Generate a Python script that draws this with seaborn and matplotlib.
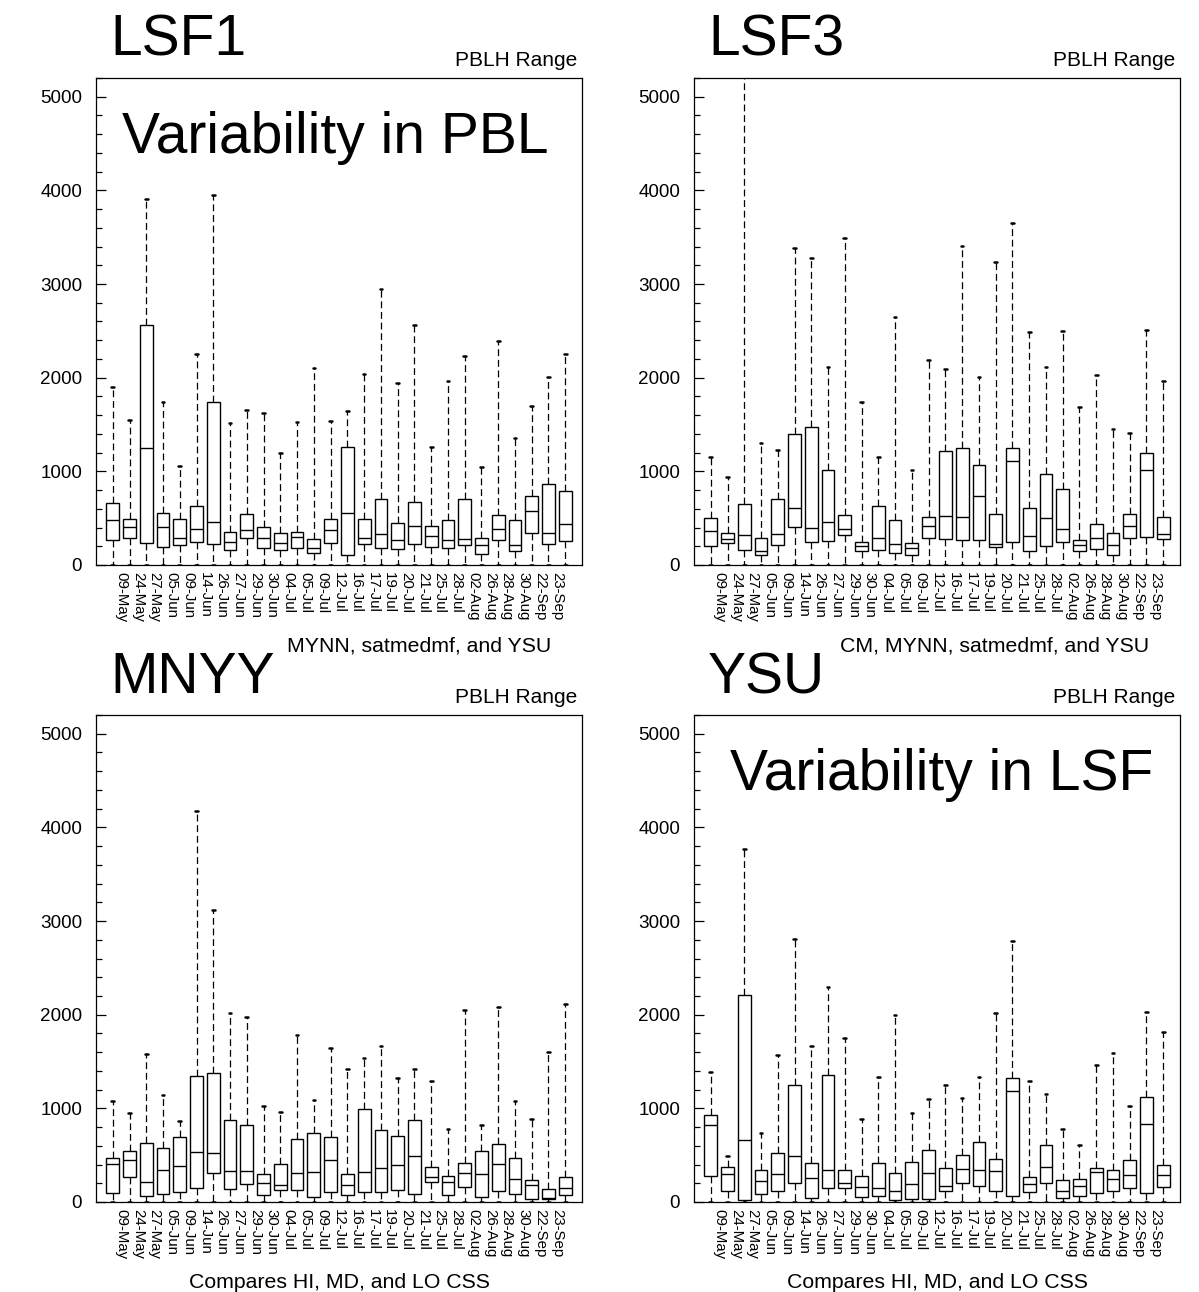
import numpy as np
import pandas as pd
import matplotlib
matplotlib.use("Agg")
import matplotlib.pyplot as plt
import seaborn as sns
from matplotlib.ticker import MultipleLocator

sns.set_style("ticks")
plt.rcParams['font.family'] = ['Liberation Sans', 'DejaVu Sans']
plt.rcParams['text.color'] = 'black'
plt.rcParams['axes.labelcolor'] = 'black'
plt.rcParams['xtick.color'] = 'black'
plt.rcParams['ytick.color'] = 'black'
plt.rcParams['axes.edgecolor'] = 'black'

# ---------------- data ----------------
dates = ['09-May', '24-May', '27-May', '05-Jun', '09-Jun', '14-Jun', '26-Jun', '27-Jun',
         '29-Jun', '30-Jun', '04-Jul', '05-Jul', '09-Jul', '12-Jul', '16-Jul', '17-Jul',
         '19-Jul', '20-Jul', '21-Jul', '25-Jul', '28-Jul', '02-Aug', '26-Aug', '28-Aug',
         '30-Aug', '22-Sep', '23-Sep']

lsf1_q1 = [267, 292, 239, 196, 214, 249, 221, 160, 285, 185, 160, 185, 125, 239, 107, 224, 178, 171, 221, 196, 178, 214, 114, 264, 153, 345, 224, 260]
lsf1_med = [481, 409, 1250, 402, 285, 381, 459, 249, 374, 288, 231, 303, 178, 374, 559, 285, 331, 267, 417, 310, 267, 281, 210, 381, 217, 577, 345, 438]
lsf1_q3 = [659, 491, 2561, 552, 488, 627, 1738, 356, 541, 409, 338, 356, 274, 488, 1264, 495, 702, 452, 676, 417, 481, 702, 292, 531, 477, 737, 869, 791]
lsf1_hi = [1898, 1549, 3910, 1745, 1061, 2251, 3950, 1520, 1656, 1628, 1200, 1531, 2101, 1538, 1649, 2037, 2952, 1941, 2561, 1264, 1966, 2236, 1044, 2397, 1360, 1699, 2012, 2251]

lsf3_q1 = [207, 235, 160, 110, 214, 410, 249, 260, 321, 153, 164, 125, 103, 285, 278, 271, 267, 196, 249, 153, 207, 242, 150, 175, 107, 285, 296, 278]
lsf3_med = [360, 274, 320, 146, 331, 609, 395, 459, 381, 199, 285, 224, 178, 417, 524, 513, 734, 224, 1111, 310, 499, 385, 214, 288, 210, 417, 1011, 328]
lsf3_q3 = [499, 338, 652, 288, 705, 1400, 1471, 1015, 538, 242, 627, 477, 239, 513, 1214, 1246, 1072, 545, 1246, 609, 972, 812, 267, 434, 338, 545, 1197, 516]
lsf3_hi = [1157, 944, 5500, 1303, 1225, 3387, 3280, 2112, 3490, 1738, 1157, 2646, 1015, 2190, 2094, 3405, 2012, 3234, 3650, 2489, 2112, 2500, 1692, 2033, 1453, 1414, 2504, 1962]

mnyy_q1 = [96, 267, 64, 82, 110, 153, 313, 142, 196, 78, 132, 125, 53, 107, 71, 103, 107, 125, 89, 210, 71, 160, 53, 118, 82, 32, 36, 71]
mnyy_med = [410, 452, 214, 342, 385, 531, 524, 335, 335, 203, 185, 313, 317, 445, 182, 321, 367, 399, 495, 267, 214, 313, 296, 406, 249, 178, 46, 146]
mnyy_q3 = [474, 545, 634, 580, 694, 1350, 1382, 872, 826, 303, 402, 673, 741, 698, 296, 997, 766, 709, 880, 374, 274, 420, 548, 623, 467, 239, 142, 267]
mnyy_hi = [1075, 951, 1578, 1140, 862, 4174, 3123, 2019, 1976, 1029, 958, 1784, 1086, 1649, 1425, 1538, 1670, 1328, 1425, 1293, 783, 2055, 819, 2083, 1075, 883, 1603, 2119]

ysu_q1 = [282, 122, 20, 86, 122, 200, 40, 147, 147, 51, 68, 20, 30, 30, 121, 199, 171, 118, 68, 103, 199, 43, 68, 100, 121, 150, 96, 160]
ysu_med = [823, 300, 667, 222, 300, 496, 261, 346, 200, 158, 147, 122, 197, 311, 175, 349, 338, 331, 1186, 192, 374, 118, 171, 324, 242, 288, 830, 288]
ysu_q3 = [930, 378, 2205, 346, 521, 1244, 414, 1354, 343, 282, 414, 311, 425, 560, 367, 502, 645, 459, 1321, 264, 609, 231, 242, 360, 338, 445, 1125, 392]
ysu_hi = [1386, 496, 3772, 738, 1571, 2811, 1664, 2291, 1746, 891, 1336, 1999, 952, 1101, 1250, 1115, 1339, 2016, 2788, 1296, 1150, 776, 609, 1464, 1588, 1029, 2033, 1820]

low_whisker = 0

panel_titles = ['LSF1', 'LSF3', 'MNYY', 'YSU']
panel_corner = 'PBLH Range'
# the upper panels' x labels are partly hidden behind the lower panels' titles
xlabel_top_visible = ['MYNN, satmedmf, and YSU', 'CM, MYNN, satmedmf, and YSU']
xlabel_bottom = 'Compares HI, MD, and LO CSS'
notes = {0: 'Variability in PBL', 3: 'Variability in LSF'}

series = [
    (lsf1_q1, lsf1_med, lsf1_q3, lsf1_hi),
    (lsf3_q1, lsf3_med, lsf3_q3, lsf3_hi),
    (mnyy_q1, mnyy_med, mnyy_q3, mnyy_hi),
    (ysu_q1, ysu_med, ysu_q3, ysu_hi),
]

# ---------------- layout ----------------
W, H = 1199, 1292
fig = plt.figure(figsize=(W / 100, H / 100), dpi=100)
fig.patch.set_facecolor('white')


def fx(x):
    return x / W


def fy(y):
    return 1 - y / H


ax_left = [96, 694, 96, 694]
ax_top = [78, 78, 715, 715]
AW, AH = 486, 487

for k, (q1, med, q3, hi) in enumerate(series):
    L, T = ax_left[k], ax_top[k]
    ax = fig.add_axes([fx(L), fy(T + AH), AW / W, AH / H])
    rows = []
    for i in range(len(q1)):
        for v in (low_whisker, q1[i], med[i], q3[i], hi[i]):
            rows.append({'box': i, 'value': v})
    df = pd.DataFrame(rows)
    sns.boxplot(data=df, x='box', y='value', ax=ax, whis=(0, 100), width=0.76,
                color='white', saturation=1, linecolor='black', linewidth=1.0,
                fliersize=0, capwidths=0.16,
                whiskerprops=dict(linestyle=(0, (5.5, 3)), linewidth=0.9, color='black'),
                capprops=dict(linewidth=1.8, color='black'),
                medianprops=dict(linewidth=1.0, color='black'))
    ax.set_xlim(-1, len(q1))
    ax.set_ylim(0, 5200)
    ax.set_xlabel('')
    ax.set_ylabel('')
    ax.yaxis.set_major_locator(MultipleLocator(1000))
    ax.yaxis.set_minor_locator(MultipleLocator(200))
    ax.set_yticks([0, 1000, 2000, 3000, 4000, 5000])
    ax.tick_params(axis='y', which='major', direction='in', length=7.5, width=0.9,
                   labelsize=13.6, pad=10, right=False, colors='black')
    ax.tick_params(axis='y', which='minor', direction='in', length=4.5, width=0.9, right=False)
    ax.set_xticks(np.arange(len(dates)) + 0.5)
    ax.set_xticklabels(dates, rotation=-90, fontsize=10.8, ha='center', va='top', color='black')
    ax.tick_params(axis='x', which='both', length=0, pad=5)
    for s in ax.spines.values():
        s.set_visible(True)
        s.set_linewidth(0.9)
        s.set_color('black')

    # texts
    fig.text(fx(L + 14), fy(T - 22), panel_titles[k], fontsize=41, ha='left', va='baseline',
             color='black')
    fig.text(fx(L + AW - 5), fy(T - 12), panel_corner, fontsize=15, ha='right', va='baseline',
             color='black')
    if k < 2:
        fig.text(fx(L + AW - 31), fy(T + AH + 86), xlabel_top_visible[k], fontsize=15.3,
                 ha='right', va='baseline', color='black')
    else:
        fig.text(fx(L + AW / 2), fy(T + AH + 86), xlabel_bottom, fontsize=15.3,
                 ha='center', va='baseline', color='black')
    if k in notes:
        dx = 26 if k == 0 else 36
        fig.text(fx(L + dx), fy(T + 75), notes[k], fontsize=41, ha='left', va='baseline',
                 color='black')

fig.savefig('out.png', dpi=100, facecolor='white')
